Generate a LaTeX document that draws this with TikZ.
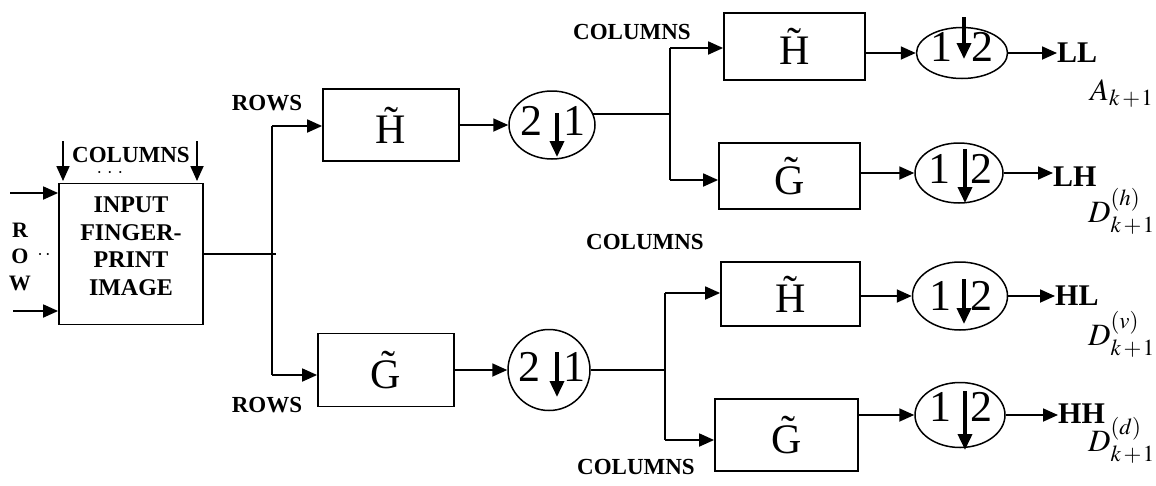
\documentclass[tikz,border=0pt]{standalone}
\usepackage{mathptmx}
\usepackage[no-math]{fontspec}
\setmainfont{Liberation Serif}
\usetikzlibrary{arrows.meta,shapes.geometric}
\newcommand\bigfnt{\fontsize{42}{42}\selectfont}
\newcommand\digfnt{\fontsize{44}{44}\selectfont}
\newcommand\lblfnt{\fontsize{23}{23}\selectfont\bfseries}
\newcommand\inpfnt{\fontsize{24}{27.5}\selectfont\bfseries}
\newcommand\outfnt{\fontsize{30}{30}\selectfont\bfseries}
\newcommand\mthfnt{\fontsize{31}{31}\selectfont}
\newcommand\rowfnt{\fontsize{22}{22}\selectfont\bfseries}
\begin{document}
\begin{tikzpicture}[x=1pt,y=-1pt,
  box/.style={draw,line width=1.8pt,inner sep=0pt},
  ell/.style={draw,ellipse,line width=1.5pt,inner sep=0pt},
  ln/.style={line width=1.8pt},
  arr/.style={line width=1.8pt,-{Triangle[length=15pt,width=13pt]}},
  dn/.style={line width=3.6pt,-{Triangle[length=16pt,width=14pt]}},
  lbl/.style={inner sep=0pt,font=\lblfnt},
  outl/.style={inner sep=0pt,anchor=west,font=\outfnt},
  dig/.style={inner sep=0pt,font=\digfnt},
  mth/.style={inner sep=0pt,anchor=base west,font=\mthfnt}]
\useasboundingbox (0,0) rectangle (1156,485);

% input box
\node[box,minimum width=144pt,minimum height=141pt] (input) at (131,254) {};
\node[inner sep=0pt,align=center,font=\inpfnt] (inputtext) at (131,246.5) {INPUT\\FINGER-\\PRINT\\IMAGE};

% row-stage filters
\node[box,minimum width=136pt,minimum height=72pt,font=\bigfnt] (rH) at (391,125) {\~{H}};
\node[box,minimum width=136pt,minimum height=73pt,font=\bigfnt] (rG) at (386,370) {\~{G}};
\node[ell,minimum width=86pt,minimum height=68pt] (e1) at (552,125) {};
\node[ell,minimum width=82pt,minimum height=81pt] (e2) at (549,370) {};

% column-stage filters
\node[box,minimum width=141pt,minimum height=67pt,font=\bigfnt] (cH1) at (794.5,46.5) {\~{H}};
\node[box,minimum width=141pt,minimum height=66pt,font=\bigfnt] (cG1) at (789.5,176) {\~{G}};
\node[box,minimum width=139pt,minimum height=64pt,font=\bigfnt] (cH2) at (790.5,294) {\~{H}};
\node[box,minimum width=143pt,minimum height=72pt,font=\bigfnt] (cG2) at (786.5,435) {\~{G}};

\node[ell,minimum width=91pt,minimum height=51pt] (o1) at (962,53) {};
\node[ell,minimum width=88pt,minimum height=60pt] (o2) at (959,173) {};
\node[ell,minimum width=95pt,minimum height=68pt] (o3) at (960,296) {};
\node[ell,minimum width=90pt,minimum height=65pt] (o4) at (960,415) {};

% digits and down arrows
\node[dig] (e1a) at (531,121) {2};
\node[dig] (e1b) at (574,121) {1};
\draw[dn] (557,113) -- (557,157);
\node[dig] (e2a) at (529,367) {2};
\node[dig] (e2b) at (574,367) {1};
\draw[dn] (557,352) -- (557,397);
\node[dig] (o1a) at (941,47) {1};
\node[dig] (o1b) at (982,47) {2};
\draw[dn] (964,17) -- (964,59);
\node[dig] (o2a) at (939,169) {1};
\node[dig] (o2b) at (981,169) {2};
\draw[dn] (965,149) -- (965,203);
\node[dig] (o3a) at (940,296) {1};
\node[dig] (o3b) at (981,296) {2};
\draw[dn] (964,279) -- (964,324);
\node[dig] (o4a) at (940,407) {1};
\node[dig] (o4b) at (981,407) {2};
\draw[dn] (965,391) -- (965,450);

% text labels
\node[lbl] (colA) at (131,155) {COLUMNS};
\node[inner sep=0pt,font=\fontsize{20}{20}\selectfont] (dotsA) at (110,173) {$\cdot\,\cdot\,\cdot$};
\node[inner sep=0pt,font=\rowfnt] (rR) at (20,230) {R};
\node[inner sep=0pt,font=\rowfnt] (rO) at (20,256) {O};
\node[inner sep=0pt,font=\rowfnt] (rW) at (20,283) {W};
\node[inner sep=0pt,font=\fontsize{20}{20}\selectfont] (dotsB) at (44,255) {$\cdot\,\cdot$};
\node[lbl] (rowsT) at (267,103) {ROWS};
\node[lbl] (rowsB) at (267,405) {ROWS};
\node[lbl] (colT) at (632,32) {COLUMNS};
\node[lbl] (colM) at (645,242) {COLUMNS};
\node[lbl] (colB) at (636,467) {COLUMNS};

% outputs
\node[outl] (LL) at (1057,53) {LL};
\node[outl] (LH) at (1053,177) {LH};
\node[outl] (HL) at (1055,296) {HL};
\node[outl] (HH) at (1058,414) {HH};
\node[mth] (mA) at (1090,100) {$A_{k\mkern2mu+\mkern1mu1}$};
\node[mth] (mH) at (1088,222) {$D^{(h)}_{k\mkern2mu+\mkern1mu1}$};
\node[mth] (mV) at (1088,345) {$D^{(v)}_{k\mkern2mu+\mkern1mu1}$};
\node[mth] (mD) at (1088,451) {$D^{(d)}_{k\mkern2mu+\mkern1mu1}$};

% input arrows
\coordinate (r1) at (10,193);
\coordinate (r2) at (13,311);
\draw[arr] (r1) -- (r1 -| input.west);
\draw[arr] (r2) -- (r2 -| input.west);
\coordinate (c1) at (63,141);
\coordinate (c1e) at (63,181);
\coordinate (c2) at (197,141);
\coordinate (c2e) at (197,181);
\draw[arr] (c1) -- (c1e);
\draw[arr] (c2) -- (c2e);

% split after input
\coordinate (j) at (276,254);
\coordinate (jt) at (272,126);
\coordinate (jb) at (272,375);
\draw[ln] (input.east) -- (j);
\draw[ln] (jt) -- (jb);
\draw[arr] (jt) -- (jt -| rH.west);
\draw[arr] (jb) -- (jb -| rG.west);
\draw[arr] (rH.east) -- (e1.west);
\draw[arr] (rG.east) -- (e2.west);

% upper column split
\coordinate (k1) at (670,115);
\coordinate (v1t) at (670,48);
\coordinate (v1b) at (670,180);
\draw[ln] (e1.15) -- (e1.15 -| k1);
\draw[ln] (v1t) -- (v1b);
\draw[arr] (v1t) -- (v1t -| cH1.west);
\draw[arr] (v1b) -- (v1b -| cG1.west);

% lower column split
\coordinate (v2t) at (665,293);
\coordinate (v2b) at (665,440);
\draw[ln] (e2.east) -- (e2.east -| v2t);
\draw[ln] (v2t) -- (v2b);
\draw[arr] (v2t) -- (v2t -| cH2.west);
\draw[arr] (v2b) -- (v2b -| cG2.west);

% filters to downsamplers
\draw[arr] (o1.west -| cH1.east) -- (o1.west);
\draw[arr] (o2.west -| cG1.east) -- (o2.west);
\draw[arr] (o3.west -| cH2.east) -- (o3.west);
\draw[arr] (o4.west -| cG2.east) -- (o4.west);

% outputs
\draw[arr] (o1.east) -- (o1.east -| LL.west);
\draw[arr] (o2.east) -- (o2.east -| LH.west);
\draw[arr] (o3.east) -- (o3.east -| HL.west);
\draw[arr] (o4.east) -- (o4.east -| HH.west);
\end{tikzpicture}
\end{document}
